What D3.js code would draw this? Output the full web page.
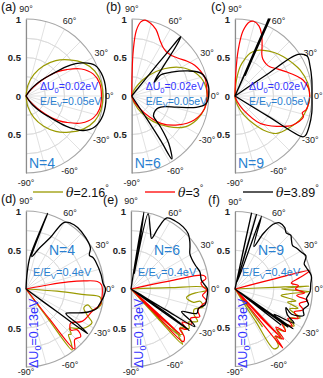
<!DOCTYPE html>
<html><head><meta charset="utf-8">
<script src="https://cdn.jsdelivr.net/npm/d3@7"></script>
<style>
body{margin:0;background:#fff;}
svg{display:block;font-family:Arial,"Liberation Sans",sans-serif;}
</style>
</head><body>
<svg id="chart" width="323" height="378"></svg>
<script>
// ---------------- data ----------------
const gridAngles = [-90,-75,-60,-45,-30,-15,0,15,30,45,60,75,90];
const gridRings = [0.25,0.5,0.75];
const angleLabels = [90,60,30,0,-30,-60,-90];
const radialTickValues = [1,0.5,0,-0.5];
const seriesLabels = ["2.16","3","3.89"];
const panelLetters = ["(a)","(b)","(c)","(d)","(e)","(f)"];
const panelN = [4,6,9,4,6,9];
const topParams = ["0.02eV","0.05eV"];
const bottomParams = ["0.13eV","0.4eV"];

// curves: [angle in degrees, normalized radius]
const oliveA = [[90,0],[80,0.14],[70,0.3],[60,0.45],[50,0.6],[40,0.73],[30,0.86],[20,0.95],[10,0.99],[0,1.0],[-10,0.99],[-20,0.95],[-30,0.86],[-40,0.73],[-50,0.6],[-60,0.45],[-70,0.3],[-80,0.14],[-90,0]];
const redA = [[59,0],[55,0.06],[50,0.15],[45,0.28],[41,0.41],[37,0.53],[33,0.63],[26,0.8],[18,0.92],[10,0.97],[0,0.98],[-10,0.97],[-18,0.92],[-26,0.8],[-33,0.63],[-37,0.53],[-41,0.41],[-45,0.28],[-50,0.15],[-55,0.06],[-59,0]];
const blackA = [[60,0],[55,0.08],[52,0.15],[46,0.28],[41,0.41],[36,0.65],[33,0.77],[30,0.86],[24,0.98],[14,1.03],[0,1.04],[-14,1.03],[-24,0.98],[-31,0.87],[-34,0.77],[-37,0.65],[-42,0.41],[-47,0.28],[-53,0.15],[-56,0.08],[-61,0]];

const oliveB = [[82,0],[70,0.07],[60,0.18],[50,0.35],[40,0.55],[30,0.74],[20,0.88],[10,0.96],[0,0.98],[-10,0.96],[-20,0.9],[-30,0.8],[-40,0.62],[-50,0.43],[-60,0.25],[-70,0.1],[-82,0]];
const redB = [[90,0],[89,0.3],[88,0.6],[86,0.85],[83,0.97],[80,1.0],[76,0.98],[70,0.92],[63,0.81],[57,0.75],[52,0.73],[45,0.74],[39,0.78],[32,0.85],[26,0.91],[20,0.95],[13.6,0.98],[5,0.98],[0,0.98],[-10,0.96],[-21,0.87],[-32,0.71],[-43,0.52],[-53,0.28],[-62,0.12],[-72,0.03],[-80,0]];
const blackB = [[51.5,0],[51,0.35],[50.7,0.75],[50.4,1.0],[48.5,0.88],[44,0.6],[38,0.42],[31,0.34],[36,0.47],[31,0.6],[24,0.8],[18,0.95],[10,1.0],[0,1.0],[-6,0.97],[-10,0.85],[-14,0.6],[-18,0.45],[-24,0.38],[-32,0.36],[-42,0.38],[-47,0.55],[-52,0.78],[-57.5,0.97],[-57,0.7],[-56.5,0.35],[-56,0]];

const oliveC = [[90,0],[85,0.2],[80,0.39],[75,0.5],[70.6,0.59],[64,0.66],[58,0.7],[48,0.76],[39,0.81],[30,0.86],[21.8,0.91],[10,0.96],[0,0.97],[-10,0.95],[-20,0.9],[-30,0.82],[-41.8,0.73],[-50,0.58],[-56,0.44],[-65,0.27],[-75,0.12],[-85,0.03],[-90,0]];
const redC = [[90,0],[88,0.3],[86,0.6],[83,0.85],[79,0.98],[76,1.0],[71,0.96],[67,0.88],[62,0.75],[57,0.64],[53,0.6],[46,0.58],[40,0.59],[32,0.66],[25,0.74],[18,0.84],[13,0.91],[6,0.96],[0,0.97],[-6,0.96],[-11,0.94],[-14,0.9],[-17,0.93],[-26.6,0.84],[-36,0.67],[-47.5,0.48],[-59,0.21],[-70,0.07],[-80,0]];
const blackC = [[70,0],[66.6,1.1],[63.5,0.3],[66.1,1.09],[64.3,0.3],[65.6,1.1],[62,0],[35,0],[34,0.5],[33.4,0.98],[29,1.07],[22,1.05],[12,1.02],[0,1.0],[-12,1.02],[-22,1.04],[-29,1.05],[-31,1.03],[-31.5,0.5],[-32,0]];

const oliveD = [[-2,0],[-4,0.4],[-5.5,0.75],[-6,0.95],[-9,0.98],[-12.2,0.98],[-17.3,0.9],[-14.4,0.82],[-18,0.78],[-23,0.85],[-27,0.95],[-31,0.93],[-34.5,0.89],[-38,0.82],[-42,0.75],[-45,0.82],[-47,0.8],[-50,0.9],[-53,0.98],[-53.5,0.5],[-54,0]];
const redD = [[11,0],[10.5,0.3],[9.5,0.55],[8,0.75],[6,0.92],[3,0.97],[-5,0.98],[-12,0.97],[-18,0.9],[-30,0.83],[-37.5,0.72],[-42.5,0.78],[-38.6,0.84],[-41,0.93],[-46,0.9],[-51,0.99],[-52,0.5],[-52.5,0]];
const blackD = [[90,0],[86,0.2],[83,0.41],[76,0.8],[74,1.01],[75.5,0.8],[80,0.42],[72,0.55],[64.7,0.73],[60.4,0.98],[56,1.02],[50,1.03],[40.7,1.01],[32.5,0.98],[28,0.92],[25,0.95],[21.6,0.96],[10.7,0.98],[4.3,0.99],[0,1.02],[-5.7,1.0],[-12,0.96],[-15.5,0.94],[-20.3,0.85],[-26,0.7],[-31.5,0.6],[-34,0.8],[-35.9,0.98],[-36.2,0.5],[-36.5,0]];

const oliveE = [[3,0],[2,0.5],[1.2,0.95],[-1,0.97],[-3,0.85],[-6,0.75],[-9,0.72],[-12,0.82],[-10,0.9],[-14,0.95],[-18,0.85],[-22,0.87],[-26,0.95],[-30,0.85],[-34,0.9],[-38,0.8],[-41,0.88],[-44,0.85],[-47,0.97],[-47.5,0.5],[-48,0],[-46,0.6],[-43.5,0.88],[-42,0]];
const redE = [[12,0],[11.6,0.5],[10.5,0.95],[8,0.97],[5,0.9],[2,0.92],[-1,0.97],[-5,0.92],[-9,0.98],[-13,0.93],[-18,0.9],[-22,0.95],[-26,0.85],[-30,0.9],[-33,0.78],[-36,0.88],[-39,0.8],[-42,0.92],[-45.2,0.95],[-45.6,0.5],[-46,0],[-44,0.5],[-42.5,0.85],[-41,0]];
const blackE = [[82,0],[81,0.5],[80.5,1.0],[79,0.5],[78.5,0.2],[77.2,0.99],[72,0.8],[67.8,0.7],[66,0.85],[63.2,1.02],[57,1.04],[50,1.04],[44,1.02],[39,0.97],[35.6,0.93],[31,0.88],[26.8,0.87],[20,0.88],[14,0.91],[7,0.91],[2,0.96],[0,0.98],[-6,0.98],[-12,0.97],[-16,0.9],[-20.3,0.9],[-24,0.71],[-28.3,0.88],[-30.5,0.95],[-31,0.5],[-31.5,0],[-34,0.6],[-35.5,0.92],[-36.5,0]];

const oliveF = [[3,0],[2.5,0.5],[2.2,0.96],[0,0.6],[-2,0.96],[-5,0.7],[-8,0.6],[-11,0.8],[-14,0.7],[-17,0.85],[-20,0.75],[-24,0.92],[-28,0.8],[-32,0.9],[-36,0.78],[-40,0.85],[-44,0.75],[-47,0.88],[-50,0.8],[-53,0.93],[-57,0.92],[-57.5,0.5],[-58,0],[-54,0.6],[-52,0]];
const redF = [[15,0],[14.5,0.5],[13.7,0.99],[10,0.85],[6,0.73],[3,0.82],[0,0.78],[-3,0.9],[-6,0.8],[-9,0.95],[-13,0.85],[-17,0.92],[-21,0.82],[-25,0.9],[-29,0.78],[-33,0.88],[-36,0.75],[-40,0.85],[-43,0.72],[-46,0.9],[-49,0.8],[-51,0.98],[-51.5,0.5],[-52,0],[-48,0.5],[-46.5,0.85],[-45,0]];
const blackF = [[80,0],[77.7,1.0],[76,0.1],[73.9,1.0],[72.5,0.1],[70,1.0],[66,0.6],[63,0.8],[59.5,0.97],[56,1.03],[51,1.02],[47.6,0.98],[44,1.0],[41.4,0.97],[37,0.93],[34,0.95],[29,0.98],[24.9,1.01],[20,0.95],[16.8,0.96],[9.8,1.0],[4,0.98],[-2,0.97],[-8,0.93],[-12,0.97],[-17,0.92],[-21,0.95],[-24,0.8],[-20,0.7],[-26,0.75],[-30,0.88],[-33,0.6],[-34.5,0.91],[-35,0],[-35.7,0.84],[-36.5,0],[-38,0.75],[-39,0]];

// ---------------- layout / style ----------------
const colors = ["#9a9a00","#ff0000","#000000"];
const panels = [
  {cx:26, cy:96, R:77, curves:[oliveA,redA,blackA]},
  {cx:131.7, cy:96, R:77, curves:[oliveB,redB,blackB]},
  {cx:235, cy:96, R:77, curves:[oliveC,redC,blackC]},
  {cx:26, cy:289, R:78, curves:[oliveD,redD,blackD]},
  {cx:131, cy:289, R:78, curves:[oliveE,redE,blackE]},
  {cx:235, cy:289, R:77.5, curves:[oliveF,redF,blackF]}
];
const letterPos = [[1,11],[106,11],[211,11],[1,203],[103,204],[208,204]];

const svg = d3.select("#chart");
const rad = d => d*Math.PI/180;

panels.forEach((p,i) => {
  const g = svg.append("g").attr("transform",`translate(${p.cx},${p.cy})`);
  const r = d3.scaleLinear().domain([0,1]).range([0,p.R]);
  // rings
  const arc = d3.arc().startAngle(0).endAngle(Math.PI);
  gridRings.forEach(v => {
    g.append("path").attr("d", arc({innerRadius:r(v), outerRadius:r(v)}))
      .attr("fill","none").attr("stroke","#d9d9d9").attr("stroke-width",0.8);
  });
  gridAngles.forEach(a => {
    g.append("line").attr("x1",0).attr("y1",0)
      .attr("x2", r(1)*Math.cos(rad(a))).attr("y2", -r(1)*Math.sin(rad(a)))
      .attr("stroke","#d9d9d9").attr("stroke-width",0.8);
  });
  g.append("path").attr("d", arc({innerRadius:r(1), outerRadius:r(1)}))
    .attr("fill","none").attr("stroke","#a6a6a6").attr("stroke-width",1.2);
  // radial axis
  const yAx = d3.scaleLinear().domain([-1,1]).range([p.R,-p.R]);
  const ax = g.append("g").call(d3.axisLeft(yAx).tickValues(radialTickValues).tickSize(0).tickPadding(5)
      .tickFormat(d => d3.format("~g")(Math.abs(d))));
  ax.select(".domain").attr("stroke","#8c8c8c").attr("stroke-width",1.2);
  ax.selectAll("text").attr("font-size",9.5).attr("font-weight","bold").attr("fill","#222")
    .attr("font-family","Arial, 'Liberation Sans', sans-serif");
  // angle labels
  const bottomRow = i >= 3;
  angleLabels.forEach(a => {
    const t = g.append("text").attr("font-size",9).attr("fill","#222")
      .attr("dominant-baseline","central").text(a+"°");
    if (a === 0) {
      t.attr("x", p.R + 2).attr("y", 0).attr("text-anchor","start");
    } else {
      let rr = p.R + 10;
      if (a === -90 && bottomRow) rr = p.R + 5;
      t.attr("x", rr*Math.cos(rad(a))).attr("y", -rr*Math.sin(rad(a))).attr("text-anchor","middle");
    }
  });
  // curves
  const line = d3.lineRadial().angle(d => rad(90-d[0])).radius(d => r(d[1]))
    .curve(d3.curveCatmullRom.alpha(0.5));
  p.curves.forEach((c,k) => {
    g.append("path").attr("d", line(c)).attr("fill","none")
      .attr("stroke", colors[k]).attr("stroke-width", k===2?1.3:1.2).attr("stroke-linejoin","round");
  });
  // panel letter
  svg.append("text").attr("x",letterPos[i][0]).attr("y",letterPos[i][1])
    .attr("font-size",12.5).attr("fill","#111").text(panelLetters[i]);
  // annotations
  if (!bottomRow) {
    const t1 = g.append("text").attr("x",14).attr("y",-6).attr("font-size",10.5).attr("fill","#3333ff");
    t1.append("tspan").text("ΔU");
    t1.append("tspan").attr("dy",2.5).attr("font-size",7.5).text("0");
    t1.append("tspan").attr("dy",-2.5).text("=" + topParams[0]);
    const t2 = g.append("text").attr("x",14).attr("y",8.5).attr("font-size",10.5).attr("fill","#2a7fd0");
    t2.append("tspan").text("E/E");
    t2.append("tspan").attr("dy",2.5).attr("font-size",7.5).text("V");
    t2.append("tspan").attr("dy",-2.5).text("=" + topParams[1]);
    g.append("text").attr("x",3).attr("y",72).attr("font-size",14).attr("fill","#2a7fd0").text("N=" + panelN[i]);
  } else {
    g.append("text").attr("x",23).attr("y",-34).attr("font-size",14).attr("fill","#2a7fd0").text("N=" + panelN[i]);
    const t2 = g.append("text").attr("x",7).attr("y",-13).attr("font-size",11).attr("fill","#2a7fd0");
    t2.append("tspan").text("E/E");
    t2.append("tspan").attr("dy",3).attr("font-size",8).text("V");
    t2.append("tspan").attr("dy",-3).text("=" + bottomParams[1]);
    const t1 = g.append("text").attr("transform",`translate(12,79) rotate(-90)`)
      .attr("font-size",12.5).attr("fill","#3333ff");
    t1.append("tspan").text("ΔU");
    t1.append("tspan").attr("dy",3).attr("font-size",9).text("0");
    t1.append("tspan").attr("dy",-3).text("=" + bottomParams[0]);
  }
});

// legend
const legX = [33,145,243];
seriesLabels.forEach((s,k) => {
  svg.append("line").attr("x1",legX[k]).attr("x2",legX[k]+30).attr("y1",192).attr("y2",192)
    .attr("stroke",colors[k]).attr("stroke-width",1.3);
  const t = svg.append("text").attr("x",legX[k]+33).attr("y",196.5).attr("font-size",12.5).attr("fill","#111");
  t.append("tspan").attr("font-style","italic").attr("font-family","'DejaVu Serif', serif").text("θ");
  t.append("tspan").text("=" + s);
  t.append("tspan").attr("dy",-6).attr("font-size",9).text("°");
});
</script>
</body></html>
